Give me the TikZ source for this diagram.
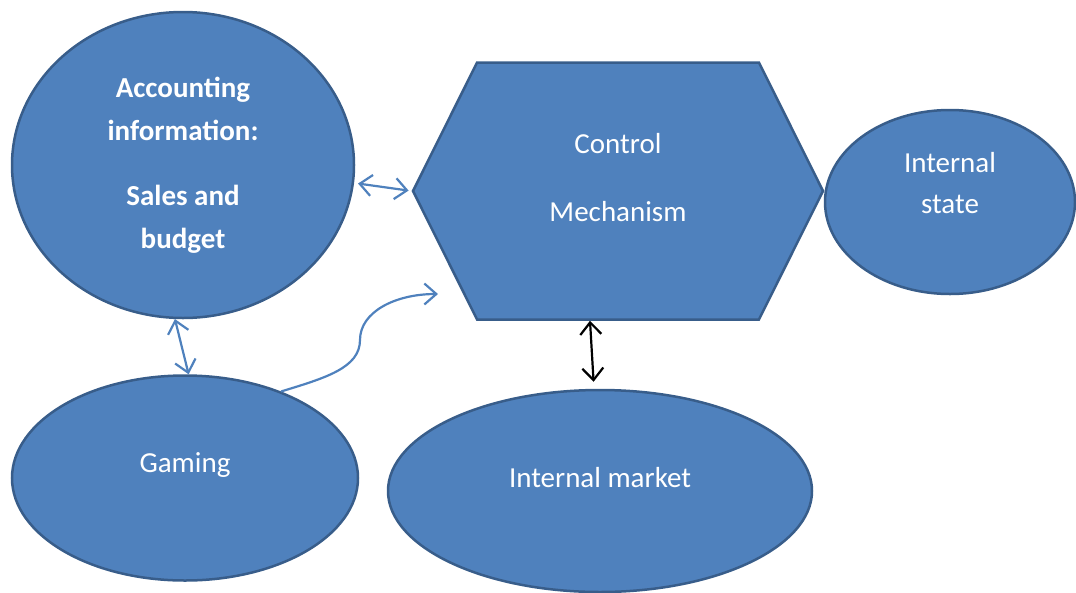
\documentclass[tikz,border=0pt]{standalone}
\usepackage{fontspec}
\setmainfont{Carlito}
\usetikzlibrary{shapes.geometric,shapes.symbols,arrows.meta}
\definecolor{boxblue}{HTML}{4F81BD}
\definecolor{boxedge}{HTML}{385D8A}

\begin{document}
\begin{tikzpicture}[x=1pt,y=-1pt]
		\tikzstyle{blob} = [draw=boxedge, ellipse, line width=2.5pt, fill=boxblue, inner sep=0pt,
		text=white, align=center, font=\fontsize{29}{43}\selectfont];
		\tikzstyle{link} = [line width=2.2pt, draw=boxblue,
		{Straight Barb[length=12pt,width=21pt]}-{Straight Barb[length=12pt,width=21pt]}];
		\useasboundingbox (0,0) rectangle (1076,592);
		\node[blob, minimum width=342pt, minimum height=306pt,
		font=\fontsize{29}{43}\selectfont\bfseries](accounting) at (183,165)
		{Accounting\\information:\\[22pt]Sales and\\budget};
		\node[signal, signal to=west and east, signal pointer angle=127,
		draw=boxedge, line width=2.5pt, fill=boxblue, inner sep=0pt,
		minimum width=410pt, minimum height=257pt, text depth=27pt,
		text=white, align=center, font=\fontsize{29}{43}\selectfont](control) at (618,191)
		{Control\\[25pt]Mechanism};
		\node[blob, minimum width=250pt, minimum height=184pt, text depth=39pt](state) at (950,202)
		{Internal\\[-2pt]state};
		\node[blob, minimum width=346pt, minimum height=205pt, text depth=31pt](gaming) at (185,478) {Gaming};
		\node[blob, minimum width=424pt, minimum height=202pt, text depth=27pt](market) at (600,491) {Internal market};
		\coordinate (bend) at (438,294);
		\draw[link, shorten <=4pt, shorten >=3pt] (accounting.-6) -- (control.west);
		\draw[link] (accounting.267) -- (gaming.88);
		\draw[link, -{Straight Barb[length=12pt,width=21pt]}] (gaming.42)
		.. controls (325,378) and (360,368) .. (360,340)
		.. controls (360,312) and (395,294) .. (bend);
		\draw[link, draw=black, shorten >=7pt] (590,0 |- control.south) -- (594,0 |- market.north);
	\end{tikzpicture}
\end{document}
